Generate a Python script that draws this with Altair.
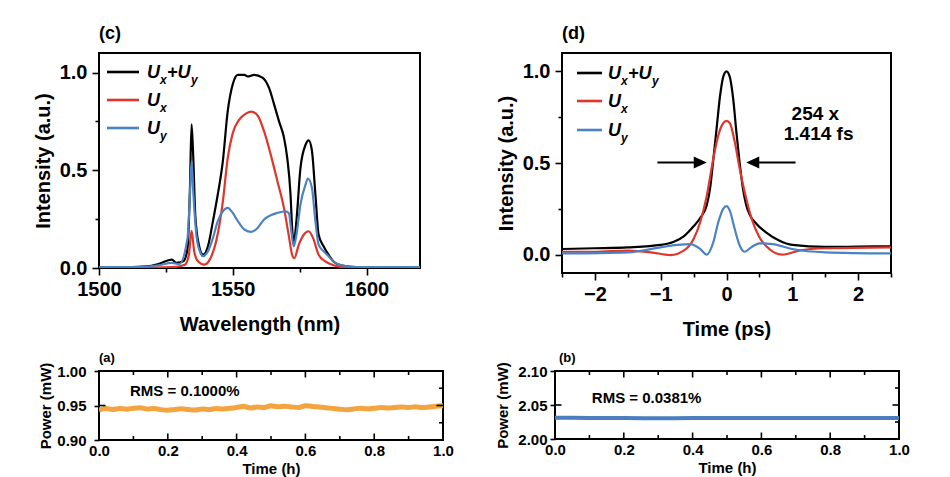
import altair as alt
import pandas as pd

FONT = "Liberation Sans"
BLACK = "#000000"
RED = "#E0352B"
BLUE = "#4B82C3"
ORANGE = "#F4A43E"
BLUE_B = "#4A7EBE"

# ---------------- (c) spectrum ----------------
c_sum_wl = [1500, 1510, 1518, 1522.2, 1527.2, 1529, 1531.5, 1533.1, 1534, 1534.6, 1535.2, 1536,
            1537.3, 1538.9, 1540.7, 1542.6, 1544.4, 1546.3, 1548.1, 1550, 1551.9, 1554.3, 1555.6,
            1558, 1561.1, 1563.6, 1565.4, 1567.3, 1569.1, 1570.4, 1571.6, 1572.2, 1572.8, 1573.8,
            1575.3, 1577.2, 1578.4, 1579.6, 1580.9, 1582.1, 1584, 1585.8, 1588.3, 1592.6, 1596,
            1600, 1610, 1620]
c_sum_int = [0.003, 0.004, 0.008, 0.02, 0.043, 0.026, 0.034, 0.10, 0.41, 0.735, 0.58, 0.27,
             0.12, 0.068, 0.11, 0.24, 0.376, 0.547, 0.80, 0.94, 0.988, 0.988, 0.98,
             0.988, 0.974, 0.92, 0.84, 0.75, 0.67, 0.56, 0.376, 0.205, 0.128, 0.24,
             0.51, 0.63, 0.653, 0.60, 0.376, 0.17, 0.11, 0.068, 0.026, 0.009, 0.005,
             0.004, 0.003, 0.003]

c_x_wl = [1500, 1520, 1527.2, 1532.1, 1533.6, 1534.6, 1535.6, 1537, 1539.3, 1541.4, 1543.8,
          1546.3, 1548.1, 1550, 1552.5, 1554.9, 1557, 1559.3, 1561.7, 1564.2, 1566.7, 1569.1,
          1570.9, 1572.2, 1573, 1574.7, 1576.5, 1578.4, 1580, 1582.1, 1584.6, 1587.7, 1591.4,
          1600, 1620]
c_x_int = [0.002, 0.002, 0.004, 0.017, 0.068, 0.19, 0.085, 0.034, 0.017, 0.043, 0.137,
           0.34, 0.56, 0.69, 0.76, 0.79, 0.80, 0.78, 0.70, 0.58, 0.444, 0.31,
           0.17, 0.068, 0.05, 0.12, 0.17, 0.188, 0.154, 0.068, 0.034, 0.014, 0.004,
           0.002, 0.002]

c_y_wl = [1500, 1515, 1522.2, 1527.2, 1530, 1533.1, 1534, 1534.6, 1535.3, 1536.4, 1537.7,
          1538.9, 1540.7, 1542.6, 1544.4, 1546.3, 1548.1, 1550, 1551.9, 1554.3, 1557, 1559.3,
          1561.7, 1564.2, 1566.7, 1569.8, 1571, 1571.9, 1572.8, 1573.8, 1575.3, 1577.2, 1578.1,
          1579.6, 1580.9, 1582.1, 1584, 1585.8, 1588.3, 1592.6, 1600, 1620]
c_y_int = [0.004, 0.005, 0.014, 0.026, 0.02, 0.154, 0.376, 0.547, 0.376, 0.17, 0.085,
           0.06, 0.085, 0.154, 0.24, 0.29, 0.308, 0.282, 0.24, 0.197, 0.185, 0.205,
           0.248, 0.27, 0.282, 0.29, 0.28, 0.188, 0.11, 0.17, 0.325, 0.427, 0.458,
           0.41, 0.24, 0.12, 0.085, 0.06, 0.026, 0.009, 0.004, 0.004]

# ---------------- (d) temporal profile ----------------
d_sum_t = [-2.5, -2, -1.5, -1, -0.8, -0.65, -0.5, -0.4, -0.3, -0.25, -0.2, -0.15, -0.1, -0.05,
           0, 0.05, 0.1, 0.15, 0.2, 0.25, 0.3, 0.35, 0.45, 0.6, 0.8, 1.0, 1.5, 2.0, 2.5]
d_sum_i = [0.031, 0.035, 0.040, 0.053, 0.07, 0.10, 0.155, 0.20, 0.27, 0.36, 0.52, 0.69, 0.86, 0.97,
           1.0, 0.97, 0.855, 0.67, 0.50, 0.36, 0.27, 0.22, 0.17, 0.122, 0.077, 0.053, 0.042, 0.044, 0.046]

d_x_t = [-2.5, -2, -1.5, -1.15, -0.85, -0.65, -0.5, -0.4, -0.3, -0.2, -0.125, -0.05, 0,
         0.05, 0.125, 0.2, 0.3, 0.4, 0.5, 0.65, 0.85, 1.1, 1.5, 2.5]
d_x_i = [0.016, 0.016, 0.022, 0.013, -0.002, 0.022, 0.086, 0.177, 0.32, 0.525, 0.65, 0.717, 0.73,
         0.717, 0.616, 0.47, 0.305, 0.177, 0.095, 0.031, 0.0, 0.022, 0.035, 0.04]

d_y_t = [-2.5, -1.5, -1, -0.75, -0.55, -0.4, -0.3, -0.2, -0.125, -0.05, 0, 0.05, 0.125, 0.2,
         0.275, 0.375, 0.5, 0.7, 1.0, 1.5, 2.5]
d_y_i = [0.007, 0.013, 0.04, 0.053, 0.058, 0.031, 0.0, 0.068, 0.177, 0.25, 0.265, 0.24, 0.14, 0.05,
         0.016, 0.04, 0.062, 0.058, 0.031, 0.013, 0.007]

# ---------------- (a) power stability ----------------
a_time = [0.00, 0.02, 0.04, 0.06, 0.08, 0.10, 0.12, 0.14, 0.16, 0.18, 0.20, 0.22, 0.24, 0.26,
          0.28, 0.30, 0.32, 0.34, 0.36, 0.38, 0.40, 0.42, 0.44, 0.46, 0.48, 0.50, 0.52, 0.54,
          0.56, 0.58, 0.60, 0.62, 0.64, 0.66, 0.68, 0.70, 0.72, 0.74, 0.76, 0.78, 0.80, 0.82,
          0.84, 0.86, 0.88, 0.90, 0.92, 0.94, 0.96, 0.98, 1.00]
a_power = [0.9432, 0.9455, 0.9442, 0.9458, 0.9447, 0.9461, 0.9468, 0.9450, 0.9457, 0.9440,
           0.9432, 0.9443, 0.9452, 0.9441, 0.9434, 0.9449, 0.9440, 0.9458, 0.9451, 0.9460,
           0.9472, 0.9488, 0.9463, 0.9479, 0.9470, 0.9497, 0.9482, 0.9490, 0.9479, 0.9471,
           0.9498, 0.9487, 0.9478, 0.9469, 0.9458, 0.9447, 0.9438, 0.9450, 0.9461, 0.9452,
           0.9460, 0.9470, 0.9462, 0.9471, 0.9480, 0.9472, 0.9481, 0.9470, 0.9479, 0.9488,
           0.9495]

# ---------------- (b) power stability ----------------
b_time = [0.0, 0.1, 0.2, 0.3, 0.4, 0.5, 0.6, 0.7, 0.8, 0.9, 1.0]
b_power = [2.0312, 2.0310, 2.0308, 2.0306, 2.0307, 2.0309, 2.0310, 2.0309, 2.0308, 2.0309, 2.0308]

# ---------------- tick values ----------------
c_xticks = [1500, 1525, 1550, 1575, 1600]
c_yticks = [0, 0.25, 0.5, 0.75, 1.0]
d_xticks = [-2.5, -2, -1.5, -1, -0.5, 0, 0.5, 1, 1.5, 2, 2.5]
d_yticks = [0, 0.25, 0.5, 0.75, 1.0]
ab_xmajor = [0, 0.2, 0.4, 0.6, 0.8, 1.0]
ab_xminor = [0.1, 0.3, 0.5, 0.7, 0.9]
a_yticks = [0.90, 0.95, 1.00]
a_ymajor_in = [0.95]
a_yminor_in = [0.925, 0.975]
b_yticks = [2.00, 2.05, 2.10]
b_ymajor_in = [2.05]
b_yminor_in = [2.025, 2.075]

ONE = pd.DataFrame({"k": [0]})


def df(x, y):
    return pd.DataFrame({"x": x, "y": y})


def big_axis(title, values, test, fmt, lpad, tpad):
    return alt.Axis(
        title=title, values=values,
        labelExpr=f"({test}) ? format(datum.value, '{fmt}') : ''",
        tickSize={"condition": {"test": test, "value": 7}, "value": 4},
        tickWidth=1.6, tickColor="black",
        labelFontSize=20, titleFontSize=20, labelPadding=lpad, titlePadding=tpad,
        labelFlush=False, labelOverlap=False, domain=False, grid=False,
    )


def enc(chart, xs, ys, xaxis, yaxis):
    return chart.encode(x=alt.X("x:Q", scale=xs, axis=xaxis),
                        y=alt.Y("y:Q", scale=ys, axis=yaxis))


def line(data, color, xs, ys, xaxis, yaxis, w=2.2):
    return enc(alt.Chart(data).mark_line(color=color, strokeWidth=w, interpolate="monotone",
                                         clip=True), xs, ys, xaxis, yaxis)


def txt(s, x, y, size, italic=True, align="left"):
    return alt.Chart(ONE).mark_text(
        text=s, font=FONT, fontSize=size, fontWeight="bold",
        fontStyle="italic" if italic else "normal", align=align, baseline="middle",
        color="black").encode(x=alt.value(x), y=alt.value(y))


def legend(x0, x1, xt, ys_px):
    layers = []
    for color, y in zip([BLACK, RED, BLUE], ys_px):
        layers.append(alt.Chart(ONE).mark_rule(color=color, strokeWidth=2.6).encode(
            x=alt.value(x0), x2=alt.value(x1), y=alt.value(y)))
    y0, y1, y2 = ys_px
    layers += [
        txt("U", xt, y0 + 1, 18), txt("x", xt + 13, y0 + 8, 12),
        txt("+U", xt + 20, y0 + 1, 18), txt("y", xt + 44, y0 + 8, 12),
        txt("U", xt, y1 + 1, 18), txt("x", xt + 13, y1 + 8, 12),
        txt("U", xt, y2 + 1, 18), txt("y", xt + 13, y2 + 8, 12),
    ]
    return layers


def panel_title(s, size, offset, dx=0):
    return alt.TitleParams(s, anchor="start", frame="group", offset=offset, dx=dx,
                           fontSize=size, font=FONT, fontWeight="bold", color="black")


def note(s, x, y, size, xs, ys, xaxis, yaxis, align="center"):
    return enc(alt.Chart(pd.DataFrame({"x": [x], "y": [y]})).mark_text(
        text=s, font=FONT, fontSize=size, fontWeight="bold", align=align,
        baseline="middle", color="black"), xs, ys, xaxis, yaxis)


# ---------------- panel (c) ----------------
cW, cH = 321, 215
cxs = alt.Scale(domain=[1500, 1620], nice=False, zero=False)
cys = alt.Scale(domain=[0, 1.1], nice=False, zero=False)
c_xaxis = big_axis("Wavelength (nm)", c_xticks, "datum.value % 50 === 0", "d", 4, 15)
c_yaxis = big_axis("Intensity (a.u.)", c_yticks, "(datum.value * 2) % 1 === 0", ".1f", 5, 6)
c_layers = [
    line(df(c_sum_wl, c_sum_int), BLACK, cxs, cys, c_xaxis, c_yaxis),
    line(df(c_x_wl, c_x_int), RED, cxs, cys, c_xaxis, c_yaxis),
    line(df(c_y_wl, c_y_int), BLUE, cxs, cys, c_xaxis, c_yaxis),
] + legend(8, 40, 48, [19, 47, 75])
c_chart = alt.layer(*c_layers).properties(width=cW, height=cH, title=panel_title("(c)", 18, 10))

# ---------------- panel (d) ----------------
dW, dH = 329, 220
dxs = alt.Scale(domain=[-2.5, 2.5], nice=False, zero=False)
dys = alt.Scale(domain=[-0.1, 1.1], nice=False, zero=False)
d_xaxis = big_axis("Time (ps)", d_xticks, "datum.value % 1 === 0", "d", 4, 15)
d_yaxis = big_axis("Intensity (a.u.)", d_yticks, "(datum.value * 2) % 1 === 0", ".1f", 5, 6)
arrow_r = "M0,0L-2,-0.92L-2,0.92Z"
arrow_l = "M0,0L2,-0.92L2,0.92Z"
shafts = pd.DataFrame({"x": [-1.05, 0.36], "x2": [-0.36, 1.05], "y": [0.503, 0.503]})
d_layers = [
    line(df(d_sum_t, d_sum_i), BLACK, dxs, dys, d_xaxis, d_yaxis),
    line(df(d_x_t, d_x_i), RED, dxs, dys, d_xaxis, d_yaxis),
    line(df(d_y_t, d_y_i), BLUE, dxs, dys, d_xaxis, d_yaxis),
    enc(alt.Chart(shafts).mark_rule(color="black", strokeWidth=2), dxs, dys, d_xaxis, d_yaxis
        ).encode(x2="x2:Q"),
    enc(alt.Chart(pd.DataFrame({"x": [-0.3], "y": [0.503]})).mark_point(
        shape=arrow_r, filled=True, size=169, color="black", opacity=1), dxs, dys, d_xaxis, d_yaxis),
    enc(alt.Chart(pd.DataFrame({"x": [0.3], "y": [0.503]})).mark_point(
        shape=arrow_l, filled=True, size=169, color="black", opacity=1), dxs, dys, d_xaxis, d_yaxis),
    note("254 x", 1.35, 0.77, 19, dxs, dys, d_xaxis, d_yaxis),
    note("1.414 fs", 1.40, 0.66, 19, dxs, dys, d_xaxis, d_yaxis),
] + legend(15, 40, 46, [20, 48, 77])
d_chart = alt.layer(*d_layers).properties(width=dW, height=dH, title=panel_title("(d)", 18, 10))


# ---------------- bottom panels ----------------
def small_xaxis(title):
    return alt.Axis(title=title, values=ab_xmajor, format=".1f", ticks=False, tickSize=0,
                    labelFontSize=15, titleFontSize=15, labelPadding=3, titlePadding=3,
                    labelFlush=False, labelOverlap=False, domain=False, grid=False)


def small_yaxis(title, values, lpad, tpad):
    return alt.Axis(title=title, values=values, format=".2f", ticks=True, tickSize=5,
                    tickWidth=1.6, tickColor="black",
                    labelFontSize=15, titleFontSize=15, labelPadding=lpad, titlePadding=tpad,
                    labelFlush=False, labelOverlap=False, domain=False, grid=False)


def inner_ticks(xs, ys, W, H, ymaj, ymin, xaxis, yaxis):
    L, S = 6.5, 4
    out = []
    for vals, ln in ((ab_xmajor, L), (ab_xminor, S)):
        d_ = pd.DataFrame({"x": vals})
        out.append(alt.Chart(d_).mark_rule(color="black", strokeWidth=1.6).encode(
            x=alt.X("x:Q", scale=xs, axis=xaxis), y=alt.value(H), y2=alt.value(H - ln)))
        out.append(alt.Chart(d_).mark_rule(color="black", strokeWidth=1.6).encode(
            x=alt.X("x:Q", scale=xs, axis=xaxis), y=alt.value(0), y2=alt.value(ln)))
    ymj = pd.DataFrame({"y": ymaj})
    ymn = pd.DataFrame({"y": ymin})
    out.append(alt.Chart(ymj).mark_rule(color="black", strokeWidth=1.6).encode(
        y=alt.Y("y:Q", scale=ys, axis=yaxis), x=alt.value(0), x2=alt.value(L)))
    out.append(alt.Chart(ymj).mark_rule(color="black", strokeWidth=1.6).encode(
        y=alt.Y("y:Q", scale=ys, axis=yaxis), x=alt.value(W), x2=alt.value(W - L)))
    out.append(alt.Chart(ymn).mark_rule(color="black", strokeWidth=1.6).encode(
        y=alt.Y("y:Q", scale=ys, axis=yaxis), x=alt.value(W), x2=alt.value(W - S)))
    return out


aW, aH = 344, 69
axs = alt.Scale(domain=[0, 1], nice=False, zero=False)
ays = alt.Scale(domain=[0.90, 1.00], nice=False, zero=False)
a_xaxis = small_xaxis("Time (h)")
a_yaxis = small_yaxis("Power (mW)", a_yticks, 8, 3)
a_layers = [
    line(df(a_time, a_power), ORANGE, axs, ays, a_xaxis, a_yaxis, w=5),
    note("RMS = 0.1000%", 0.09, 0.9714, 15, axs, ays, a_xaxis, a_yaxis, align="left"),
] + inner_ticks(axs, ays, aW, aH, a_ymajor_in, a_yminor_in, a_xaxis, a_yaxis)
a_chart = alt.layer(*a_layers).properties(width=aW, height=aH, title=panel_title("(a)", 13, -3))

bW, bH = 344, 68
bxs = alt.Scale(domain=[0, 1], nice=False, zero=False)
bys = alt.Scale(domain=[2.00, 2.10], nice=False, zero=False)
b_xaxis = small_xaxis("Time (h)")
b_yaxis = small_yaxis("Power (mW)", b_yticks, 3, 7)
b_layers = [
    line(df(b_time, b_power), BLUE_B, bxs, bys, b_xaxis, b_yaxis, w=4),
    note("RMS = 0.0381%", 0.107, 2.0597, 15, bxs, bys, b_xaxis, b_yaxis, align="left"),
] + inner_ticks(bxs, bys, bW, bH, b_ymajor_in, b_yminor_in, b_xaxis, b_yaxis)
b_chart = alt.layer(*b_layers).properties(width=bW, height=bH,
                                           title=panel_title("(b)", 13, -3, dx=4))

top = alt.hconcat(c_chart, d_chart, spacing=74)
bottom = alt.hconcat(a_chart, b_chart, spacing=39)
chart = alt.vconcat(top, bottom, spacing=10).properties(
    padding={"left": 24, "top": 16, "right": 5, "bottom": 5}
).configure(font=FONT).configure_view(stroke="black", strokeWidth=2).configure_axis(
    labelFont=FONT, titleFont=FONT, labelFontWeight="bold", titleFontWeight="bold",
    labelColor="black", titleColor="black")

chart.save("out.html", embed_options={"renderer": "svg", "actions": False})
